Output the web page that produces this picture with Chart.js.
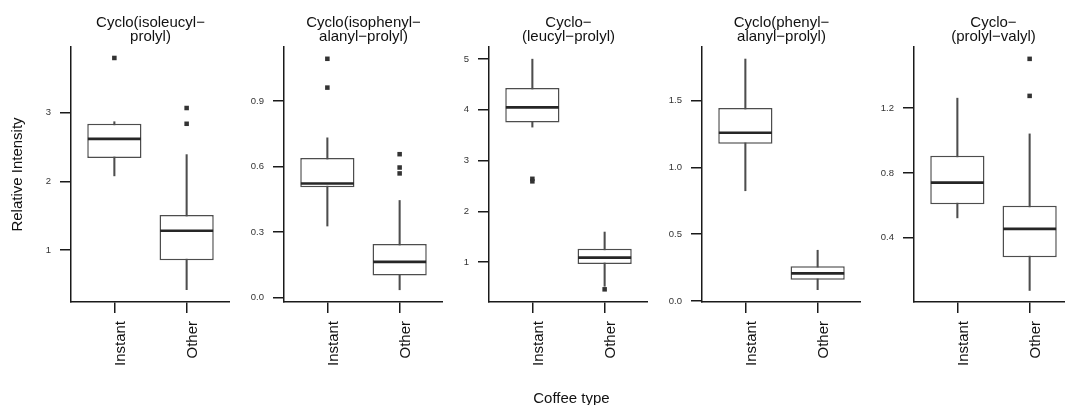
<!DOCTYPE html>
<html>
<head>
<meta charset="utf-8">
<script src="https://cdn.jsdelivr.net/npm/chart.js@4.4.1/dist/chart.umd.min.js"></script>
<style>
  html, body { margin: 0; padding: 0; background: #fff; overflow: hidden; }
  body { width: 1065px; height: 405px; position: relative; font-family: "Liberation Sans", Arial, sans-serif; }
  canvas { position: absolute; top: 0; }
  #xtitle { position: absolute; left: 571.5px; top: 389px; transform: translateX(-50%); font-size: 15px; line-height: 17px; color: #111; white-space: nowrap; }
</style>
</head>
<body>
<canvas id="c0"></canvas>
<canvas id="c1"></canvas>
<canvas id="c2"></canvas>
<canvas id="c3"></canvas>
<canvas id="c4"></canvas>
<div id="xtitle">Coffee type</div>
<script>
// ---------------- DATA ----------------
const panelTitles = [
  ["Cyclo(isoleucyl\u2212", "prolyl)"],
  ["Cyclo(isophenyl\u2212", "alanyl\u2212prolyl)"],
  ["Cyclo\u2212", "(leucyl\u2212prolyl)"],
  ["Cyclo(phenyl\u2212", "alanyl\u2212prolyl)"],
  ["Cyclo\u2212", "(prolyl\u2212valyl)"]
];
const categories = ["Instant", "Other"];
const yAxisTitle = "Relative Intensity";
const xAxisTitle = "Coffee type";

// per panel: [Instant, Other]
const whiskerLow  = [[2.08, 0.42], [0.327, 0.035], [3.66, 0.52], [0.825, 0.085], [0.523, 0.076]];
const quartile1   = [[2.34, 0.85], [0.505, 0.100], [3.75, 0.96], [1.176, 0.160], [0.607, 0.280]];
const medians     = [[2.62, 1.28], [0.522, 0.163], [4.05, 1.085], [1.259, 0.207], [0.740, 0.455]];
const quartile3   = [[2.84, 1.51], [0.639, 0.245], [4.43, 1.26], [1.443, 0.261], [0.905, 0.597]];
const whiskerHigh = [[2.87, 2.39], [0.731, 0.444], [5.00, 1.59], [1.810, 0.380], [1.260, 1.040]];
const outliers = [
  [[3.80], [3.07, 2.84]],
  [[1.093, 0.961], [0.656, 0.595, 0.568]],
  [[2.64, 2.59], [0.46]],
  [[], []],
  [[], [1.502, 1.274]]
];

const yMin = [0.24, -0.021, 0.21, -0.007, 0.005];
const yMax = [3.96, 1.147, 5.24, 1.90, 1.575];
const yTickValues = [[1, 2, 3], [0, 0.3, 0.6, 0.9], [1, 2, 3, 4, 5], [0, 0.5, 1.0, 1.5], [0.4, 0.8, 1.2]];
const yTickLabels = [["1", "2", "3"], ["0.0", "0.3", "0.6", "0.9"], ["1", "2", "3", "4", "5"], ["0.0", "0.5", "1.0", "1.5"], ["0.4", "0.8", "1.2"]];

// ---------------- LAYOUT ----------------
const axisX = [71, 284, 489, 702, 914];   // pixel x of each panel's y axis
const plotW = 159;
const H = 405;
const plotBottom = 302;

Chart.defaults.font.family = '"Liberation Sans", Arial, sans-serif';

const LINE = '#1a1a1a';
const BOXC = '#4d4d4d';

for (let p = 0; p < 5; p++) {
  const yw = (p === 0) ? axisX[0] : 60;
  const left = axisX[p] - yw;
  const cv = document.getElementById('c' + p);
  cv.width = yw + plotW;
  cv.height = H;
  cv.style.left = left + 'px';
  cv.style.width = (yw + plotW) + 'px';
  cv.style.height = H + 'px';

  const xs = categories.map((c, j) => j + 1);
  const outPts = [];
  categories.forEach((c, j) => outliers[p][j].forEach(v => outPts.push({x: j + 1, y: v})));

  new Chart(cv, {
    type: 'bar',
    data: {
      datasets: [
        {
          type: 'bar',
          data: xs.map((x, j) => ({x: x, y: [whiskerLow[p][j], whiskerHigh[p][j]]})),
          backgroundColor: BOXC,
          borderWidth: 0,
          barThickness: 1.4,
          grouped: false,
          order: 3
        },
        {
          type: 'bar',
          data: xs.map((x, j) => ({x: x, y: [quartile1[p][j], quartile3[p][j]]})),
          backgroundColor: '#ffffff',
          borderColor: BOXC,
          borderWidth: 1.5,
          borderSkipped: false,
          barPercentage: 1,
          categoryPercentage: 0.75,
          grouped: false,
          order: 2
        },
        {
          type: 'scatter',
          data: xs.map((x, j) => ({x: x, y: medians[p][j]})),
          pointStyle: 'line',
          pointRadius: 26.5,
          pointHoverRadius: 26.5,
          borderColor: '#262626',
          borderWidth: 2.6,
          order: 1
        },
        {
          type: 'scatter',
          data: outPts,
          pointStyle: 'rect',
          pointRadius: 3.2,
          pointHoverRadius: 3.2,
          backgroundColor: '#333333',
          borderColor: '#333333',
          borderWidth: 0,
          order: 0
        }
      ]
    },
    options: {
      responsive: false,
      animation: false,
      events: [],
      layout: { padding: 0, autoPadding: false },
      plugins: {
        legend: { display: false },
        tooltip: { enabled: false },
        title: {
          display: true,
          text: panelTitles[p],
          fullSize: false,
          color: '#111',
          font: { size: 15, weight: 'normal', lineHeight: 0.9333 },
          padding: { top: 16, bottom: 3 }
        }
      },
      scales: {
        x: {
          type: 'linear',
          min: 0.4,
          max: 2.6,
          offset: false,
          afterBuildTicks: s => { s.ticks = xs.map(v => ({value: v})); },
          afterFit: s => { s.height = H - plotBottom; s.paddingLeft = 0; s.paddingRight = 0; },
          ticks: {
            autoSkip: false,
            minRotation: 90,
            maxRotation: 90,
            padding: 8,
            labelOffset: 6,
            color: '#111',
            font: { size: 15 },
            callback: (v, i) => categories[i]
          },
          grid: { offset: false, drawOnChartArea: false, drawTicks: true, tickLength: 11, tickColor: LINE, lineWidth: 1.5 },
          border: { display: true, color: LINE, width: 1.5 }
        },
        y: {
          type: 'linear',
          min: yMin[p],
          max: yMax[p],
          afterBuildTicks: s => { s.ticks = yTickValues[p].map(v => ({value: v})); },
          afterFit: s => { s.width = yw; s.paddingTop = 0; s.paddingBottom = 0; },
          ticks: {
            padding: 9,
            color: '#333',
            font: { size: 9.5 },
            callback: (v, i) => yTickLabels[p][i]
          },
          grid: { drawOnChartArea: false, drawTicks: true, tickLength: 11, tickColor: LINE, lineWidth: 1.5 },
          border: { display: true, color: LINE, width: 1.5 },
          title: {
            display: p === 0,
            text: yAxisTitle,
            color: '#111',
            font: { size: 15 },
            padding: { top: 9, bottom: 0 }
          }
        }
      }
    }
  });
}
document.getElementById('xtitle').textContent = xAxisTitle;
</script>
</body>
</html>
